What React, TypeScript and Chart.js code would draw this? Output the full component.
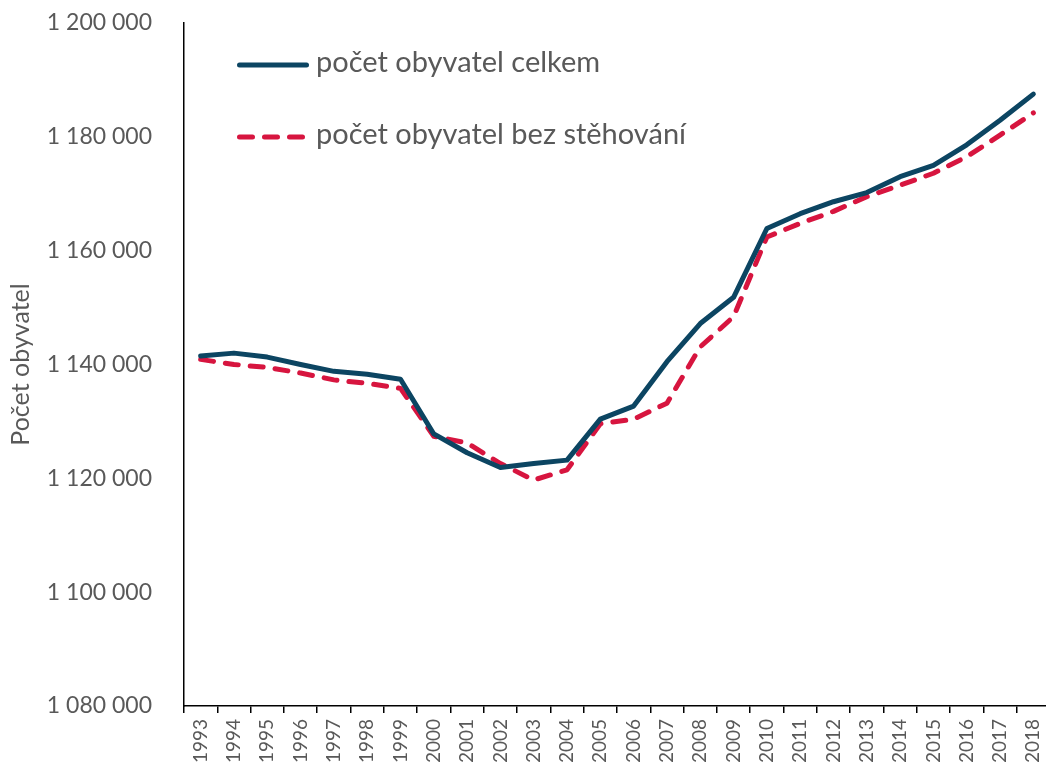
import React, { useEffect, useRef } from "react";
import { Chart, registerables } from "chart.js";

Chart.register(...registerables);

const years = ["1993","1994","1995","1996","1997","1998","1999","2000","2001","2002","2003","2004","2005","2006","2007","2008","2009","2010","2011","2012","2013","2014","2015","2016","2017","2018"];
const totalPop = [1141500, 1142000, 1141300, 1140000, 1138800, 1138300, 1137400, 1127800, 1124500, 1121900, 1122600, 1123200, 1130400, 1132700, 1140500, 1147200, 1151800, 1163900, 1166500, 1168600, 1170200, 1173000, 1175000, 1178600, 1182900, 1187500];
const noMigrationPop = [1140900, 1140000, 1139500, 1138500, 1137300, 1136700, 1135800, 1127400, 1126200, 1122600, 1119700, 1121500, 1129600, 1130400, 1133200, 1143100, 1148400, 1162400, 1164800, 1166900, 1169500, 1171500, 1173600, 1176500, 1180300, 1184200];
const seriesLabels = ["počet obyvatel celkem", "počet obyvatel bez stěhování"];
const yAxisTitle = "Počet obyvatel";
const yMin = 1080000;
const yMax = 1200000;
const yStep = 20000;

const FONT = "Lato, 'Liberation Sans', sans-serif";
const GRAY = "#595959";
const BLUE = "#0C4562";
const RED = "#D7153F";

const fmt = (v: number) => {
  const s = Math.round(v).toString();
  return s.replace(/\B(?=(\d{3})+(?!\d))/g, " ");
};

const legendPlugin = {
  id: "innerLegend",
  afterDraw(chart: any) {
    const ctx = chart.ctx;
    const ca = chart.chartArea;
    const x0 = ca.left + 55.5;
    const rows = [ca.top + 42, ca.top + 114];
    chart.data.datasets.forEach((ds: any, i: number) => {
      const y = rows[i];
      ctx.save();
      ctx.strokeStyle = ds.borderColor;
      ctx.lineWidth = ds.borderWidth;
      ctx.lineCap = "round";
      ctx.setLineDash(ds.borderDash || []);
      ctx.beginPath();
      ctx.moveTo(x0, y);
      ctx.lineTo(x0 + (ds.borderDash ? 63 : 67), y);
      ctx.stroke();
      ctx.setLineDash([]);
      ctx.fillStyle = GRAY;
      ctx.font = `29px ${FONT}`;
      ctx.textBaseline = "middle";
      ctx.textAlign = "left";
      ctx.fillText(ds.label, ca.left + 132, y - 2);
      ctx.restore();
    });
  },
};

export default function App() {
  const ref = useRef<HTMLCanvasElement | null>(null);
  useEffect(() => {
    document.body.style.margin = "0";
    const canvas = ref.current!;
    const chart = new Chart(canvas, {
      type: "line",
      data: {
        labels: years,
        datasets: [
          {
            label: seriesLabels[0],
            data: totalPop,
            borderColor: BLUE,
            backgroundColor: BLUE,
            borderWidth: 5,
            pointRadius: 0,
            tension: 0,
            borderCapStyle: "round",
            borderJoinStyle: "round",
          },
          {
            label: seriesLabels[1],
            data: noMigrationPop,
            borderColor: RED,
            backgroundColor: RED,
            borderWidth: 5,
            borderDash: [13, 12],
            pointRadius: 0,
            tension: 0,
            borderCapStyle: "round",
            borderJoinStyle: "round",
          },
        ],
      },
      options: {
        animation: false,
        responsive: false,
        maintainAspectRatio: false,
        layout: { padding: { top: 23, right: 2, bottom: 0, left: 0 } },
        plugins: {
          legend: { display: false },
          tooltip: { enabled: false },
        },
        scales: {
          x: {
            type: "category",
            offset: true,
            grid: {
              display: true,
              offset: true,
              drawOnChartArea: false,
              drawTicks: true,
              tickLength: 7,
              color: "#000",
              lineWidth: 1.5,
            },
            border: { display: true, color: "#000", width: 1.5 },
            ticks: {
              autoSkip: false,
              minRotation: 90,
              maxRotation: 90,
              padding: 6,
              color: GRAY,
              font: { family: FONT, size: 19 },
            },
            afterFit: (scale: any) => {
              scale.height = 56;
              scale.paddingLeft = 0;
              scale.paddingRight = 0;
            },
          },
          y: {
            min: yMin,
            max: yMax,
            grid: { display: false, drawTicks: false },
            border: { display: true, color: "#000", width: 1.5 },
            ticks: {
              stepSize: yStep,
              padding: 32,
              color: GRAY,
              font: { family: FONT, size: 23 },
              callback: (v: any) => fmt(Number(v)),
            },
            title: {
              display: true,
              text: yAxisTitle,
              color: GRAY,
              font: { family: FONT, size: 25 },
              padding: { top: 6, bottom: 0 },
            },
            afterFit: (scale: any) => {
              scale.width = 184;
              scale.paddingTop = 0;
              scale.paddingBottom = 0;
            },
          },
        },
      },
      plugins: [legendPlugin],
    });
    return () => chart.destroy();
  }, []);
  return (
    <div style={{ width: 1046, height: 762, overflow: "hidden", background: "#fff" }}>
      <canvas ref={ref} width={1052} height={762} style={{ display: "block" }} />
    </div>
  );
}
